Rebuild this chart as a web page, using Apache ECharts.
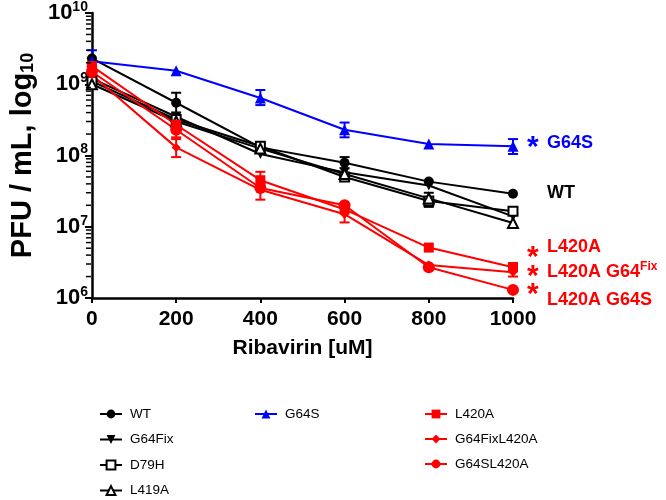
<!DOCTYPE html>
<html>
<head>
<meta charset="utf-8">
<script src="https://cdn.jsdelivr.net/npm/echarts@6/dist/echarts.min.js"></script>
<style>html,body{margin:0;padding:0;background:#fff;}#c{width:666px;height:500px;}</style>
</head>
<body>
<div id="c"></div>
<script>
// ---- data ----
var doses = [0, 200, 400, 600, 800, 1000];
var xTicks = ['0', '200', '400', '600', '800', '1000'];
var yTickExps = [6, 7, 8, 9, 10];

var WT          = [2.3e9, 5.5e8, 1.3e8, 7.9e7, 4.3e7, 2.9e7];
var G64Fix      = [1.2e9, 3.5e8, 1.05e8, 5.8e7, 3.8e7, 1.4e7];
var D79H        = [1.1e9, 3.2e8, 1.35e8, 5.0e7, 2.3e7, 1.65e7];
var L419A       = [1.0e9, 3.0e8, 1.25e8, 5.5e7, 2.5e7, 1.13e7];
var G64S        = [2.1e9, 1.55e9, 6.4e8, 2.3e8, 1.45e8, 1.35e8];
var L420A       = [1.8e9, 2.7e8, 4.5e7, 1.75e7, 5.1e6, 2.7e6];
var G64FixL420A = [1.35e9, 1.3e8, 3.3e7, 1.5e7, 2.9e6, 2.3e6];
var G64SL420A   = [1.5e9, 2.3e8, 3.5e7, 2.0e7, 2.7e6, 1.3e6];

// error bars: low / high (null = none)
var WT_lo = [null, 4.0e8, null, 6.6e7, null, null];
var WT_hi = [null, 7.6e8, null, 9.5e7, null, null];
var G64Fix_lo = [0.95e9, null, null, null, null, null];
var G64Fix_hi = [1.3e9, null, null, null, null, null];
var D79H_lo = [null, null, null, null, 1.9e7, null];
var D79H_hi = [null, null, null, null, 3.0e7, null];
var G64S_lo = [1.6e9, null, 5.1e8, 1.8e8, null, 1.05e8];
var G64S_hi = [3.0e9, null, 8.3e8, 2.9e8, null, 1.7e8];
var L420A_lo = [null, 1.7e8, 3.6e7, null, null, 2.0e6];
var L420A_hi = [null, 3.6e8, 5.9e7, null, null, 3.1e6];
var G64FixL420A_lo = [1.1e9, 9.5e7, 2.4e7, 1.15e7, null, null];
var G64FixL420A_hi = [1.7e9, 1.8e8, 4.0e7, 1.9e7, null, null];

var BLACK = '#000000', BLUE = '#0000ff', RED = '#ff0000';
var FONT = '"Liberation Sans", Arial, sans-serif';

function pairs(vals) { return doses.map(function (d, i) { return [d, vals[i]]; }); }
function errData(lo, hi) {
  var out = [];
  doses.forEach(function (d, i) { if (lo[i] != null) out.push([d, lo[i], hi[i]]); });
  return out;
}
function errSeries(lo, hi, color) {
  return {
    type: 'custom', silent: true, z: 3,
    data: errData(lo, hi),
    encode: { x: 0, y: [1, 2] },
    renderItem: function (params, api) {
      var x = api.value(0);
      var a = api.coord([x, api.value(1)]);
      var b = api.coord([x, api.value(2)]);
      var w = 5;
      var st = { stroke: color, lineWidth: 2 };
      return { type: 'group', children: [
        { type: 'line', shape: { x1: a[0], y1: a[1], x2: b[0], y2: b[1] }, style: st },
        { type: 'line', shape: { x1: a[0] - w, y1: a[1], x2: a[0] + w, y2: a[1] }, style: st },
        { type: 'line', shape: { x1: b[0] - w, y1: b[1], x2: b[0] + w, y2: b[1] }, style: st }
      ]};
    }
  };
}
function lineSeries(name, vals, color, symbol, size, extra) {
  var s = {
    name: name, type: 'line', data: pairs(vals), z: 4,
    symbol: symbol, symbolSize: size,
    lineStyle: { color: color, width: 2 },
    itemStyle: { color: color, borderWidth: symbol.indexOf('empty') === 0 ? 2 : 0, borderColor: color },
    emphasis: { disabled: true }
  };
  if (extra) for (var k in extra) s[k] = extra[k];
  return s;
}

// minor log ticks values
var minorVals = [];
for (var e = 6; e < 10; e++) for (var m = 2; m <= 9; m++) minorVals.push([0, m * Math.pow(10, e), 0]);

var chart = echarts.init(document.getElementById('c'));
var legendText = { fontFamily: FONT, fontSize: 13.5, color: '#000', padding: [0, 0, 0, 3] };
chart.setOption({
  animation: false,
  backgroundColor: '#fff',
  grid: { left: 82, right: 153, top: 13, bottom: 202 },
  xAxis: {
    type: 'value', min: 0, max: 1000, interval: 200,
    name: 'Ribavirin [uM]', nameLocation: 'middle', nameGap: 40,
    nameTextStyle: { fontFamily: FONT, fontWeight: 'bold', fontSize: 21, color: '#000' },
    axisLine: { show: true, lineStyle: { color: '#000', width: 2.5 } },
    axisTick: { show: true, length: 5, lineStyle: { color: '#000', width: 2 } },
    axisLabel: { fontFamily: FONT, fontWeight: 'bold', fontSize: 21, color: '#000', margin: 11,
      formatter: function (v) { return xTicks[doses.indexOf(v)]; } },
    splitLine: { show: false }
  },
  yAxis: {
    type: 'log', logBase: 10, min: 1e6, max: 1e10,
    name: '{t|PFU / mL, log}{u|10}', nameLocation: 'middle', nameGap: 54, nameRotate: 90,
    nameTextStyle: {
      rich: {
        t: { fontFamily: FONT, fontWeight: 'bold', fontSize: 29, color: '#000' },
        u: { fontFamily: FONT, fontWeight: 'bold', fontSize: 18, color: '#000', verticalAlign: 'bottom' }
      }
    },
    axisLine: { show: true, lineStyle: { color: '#000', width: 2.5 } },
    axisTick: { show: true, length: 7, lineStyle: { color: '#000', width: 2 } },
    axisLabel: {
      margin: 4,
      formatter: function (v) {
        var ex = Math.round(Math.log10(v));
        if (yTickExps.indexOf(ex) < 0) return '';
        return '{b|10}{s|' + ex + '}';
      },
      rich: {
        b: { fontFamily: FONT, fontWeight: 'bold', fontSize: 22, color: '#000', lineHeight: 26 },
        s: { fontFamily: FONT, fontWeight: 'bold', fontSize: 14, color: '#000', verticalAlign: 'top', lineHeight: 14 }
      }
    },
    splitLine: { show: false }
  },
  legend: [
    { data: ['WT', 'G64Fix', 'D79H', 'L419A'], orient: 'vertical', left: 94, top: 402, height: 120,
      itemWidth: 22, itemHeight: 11, itemGap: 11.5, textStyle: legendText, selectedMode: false },
    { data: ['G64S'], orient: 'vertical', left: 249, top: 402, height: 120,
      itemWidth: 22, itemHeight: 11, itemGap: 11.5, textStyle: legendText, selectedMode: false },
    { data: ['L420A', 'G64FixL420A', 'G64SL420A'], orient: 'vertical', left: 419, top: 402, height: 120,
      itemWidth: 22, itemHeight: 11, itemGap: 11, textStyle: legendText, selectedMode: false }
  ],
  graphic: [
    { type: 'text', x: 527, y: 148, style: { text: '*', font: 'bold 30px ' + FONT, fill: BLUE, verticalAlign: 'middle' } },
    { type: 'text', x: 547, y: 143, style: { text: 'G64S', font: 'bold 18px ' + FONT, fill: BLUE, verticalAlign: 'middle' } },
    { type: 'text', x: 547, y: 193, style: { text: 'WT', font: 'bold 18px ' + FONT, fill: BLACK, verticalAlign: 'middle' } },
    { type: 'text', x: 547, y: 247, style: { text: 'L420A', font: 'bold 18px ' + FONT, fill: RED, verticalAlign: 'middle' } },
    { type: 'text', x: 547, y: 272, style: { text: '{m|L420A G64}{p|Fix}', fill: RED, verticalAlign: 'middle',
        rich: { m: { font: 'bold 18px ' + FONT, fill: RED, lineHeight: 22 },
                p: { font: 'bold 12px ' + FONT, fill: RED, verticalAlign: 'top', lineHeight: 12 } } } },
    { type: 'text', x: 547, y: 300, style: { text: 'L420A G64S', font: 'bold 18px ' + FONT, fill: RED, verticalAlign: 'middle' } },
    { type: 'text', x: 527, y: 258, style: { text: '*', font: 'bold 30px ' + FONT, fill: RED, verticalAlign: 'middle' } },
    { type: 'text', x: 527, y: 277, style: { text: '*', font: 'bold 30px ' + FONT, fill: RED, verticalAlign: 'middle' } },
    { type: 'text', x: 527, y: 295, style: { text: '*', font: 'bold 30px ' + FONT, fill: RED, verticalAlign: 'middle' } }
  ],
  series: [
    {
      type: 'custom', silent: true, clip: false, z: 6,
      data: minorVals, encode: { x: 0, y: 1 },
      renderItem: function (params, api) {
        var p = api.coord([api.value(0), api.value(1)]);
        return { type: 'line', shape: { x1: p[0] - 6, y1: p[1], x2: p[0] - 1, y2: p[1] }, style: { stroke: '#000', lineWidth: 1.5 } };
      }
    },
    errSeries(WT_lo, WT_hi, BLACK),
    errSeries(G64Fix_lo, G64Fix_hi, BLACK),
    errSeries(D79H_lo, D79H_hi, BLACK),
    errSeries(G64S_lo, G64S_hi, BLUE),
    errSeries(L420A_lo, L420A_hi, RED),
    errSeries(G64FixL420A_lo, G64FixL420A_hi, RED),
    lineSeries('WT', WT, BLACK, 'circle', 10),
    lineSeries('G64Fix', G64Fix, BLACK, 'triangle', 10, { symbolRotate: 180 }),
    lineSeries('D79H', D79H, BLACK, 'emptyRect', 9),
    lineSeries('L419A', L419A, BLACK, 'emptyTriangle', 10),
    lineSeries('G64S', G64S, BLUE, 'triangle', 11),
    lineSeries('L420A', L420A, RED, 'rect', 10),
    lineSeries('G64FixL420A', G64FixL420A, RED, 'diamond', 9),
    lineSeries('G64SL420A', G64SL420A, RED, 'circle', 12)
  ]
});
</script>
</body>
</html>
